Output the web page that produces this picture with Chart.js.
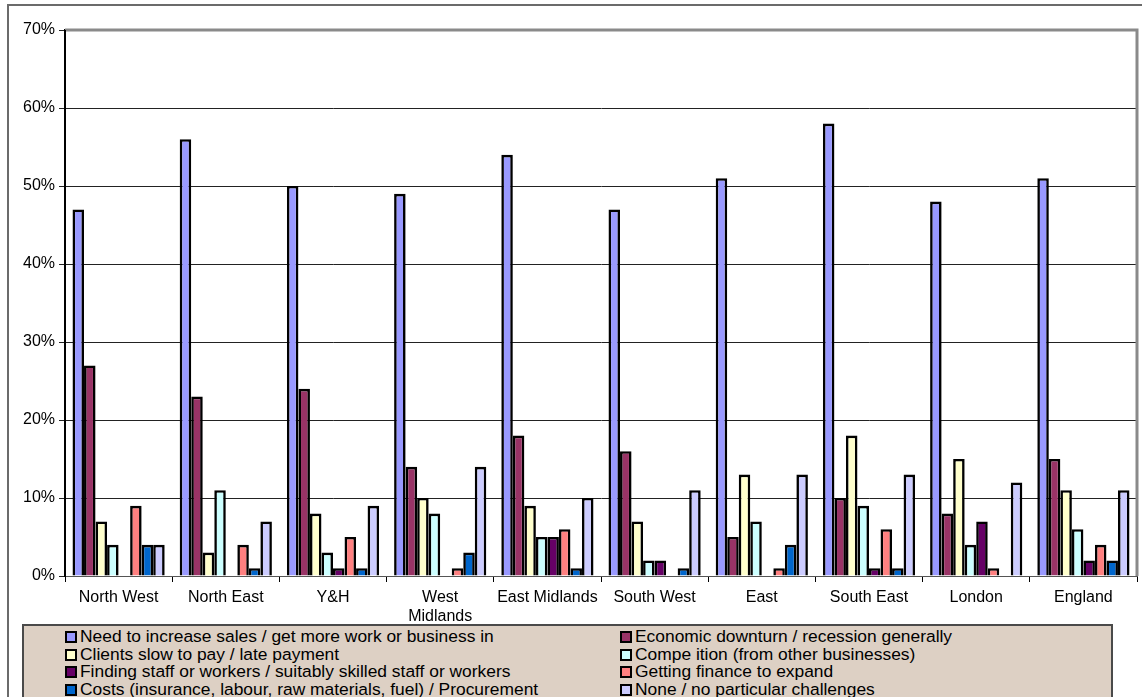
<!DOCTYPE html>
<html>
<head>
<meta charset="utf-8">
<script src="https://cdn.jsdelivr.net/npm/chart.js@4.4.1/dist/chart.umd.min.js"></script>
<style>
  html, body { margin: 0; padding: 0; background: #fff; }
  #wrap { position: relative; width: 1142px; height: 697px; overflow: hidden; font-family: "Liberation Sans", Arial, sans-serif; }
  #frame { position: absolute; left: 7px; top: 4px; width: 1200px; height: 800px; border: 2px solid #6b6b6b; box-sizing: border-box; }
  canvas { position: absolute; left: 0; top: 0; }
  #legend { position: absolute; left: 22px; top: 624px; width: 1091px; height: 90px; background: #ddd0c4; border: 2px solid #4a4a4a; box-sizing: border-box; }
  .item { position: absolute; font-size: 17.4px; line-height: 18px; color: #000; white-space: nowrap; }
  .mk { position: absolute; left: 0; top: 3px; width: 8px; height: 8px; border: 2px solid #000; }
  .item span.t { position: absolute; left: 15px; top: -1px; }
</style>
</head>
<body>
<div id="wrap">
  <div id="frame"></div>
  <canvas id="c" width="1142" height="697"></canvas>
  <div id="legend"></div>
</div>
<script>
// ---- data ----
const categories = ['North West', 'North East', 'Y&H', ['West', 'Midlands'], 'East Midlands', 'South West', 'East', 'South East', 'London', 'England'];
const seriesNames = [
  'Need to increase sales / get more work or business in',
  'Economic downturn / recession generally',
  'Clients slow to pay / late payment',
  'Compe ition (from other businesses)',
  'Finding staff or workers / suitably skilled staff or workers',
  'Getting finance to expand',
  'Costs (insurance, labour, raw materials, fuel) / Procurement',
  'None / no particular challenges'
];
const needSales   = [47, 56, 50, 49, 54, 47, 51, 58, 48, 51];
const downturn    = [27, 23, 24, 14, 18, 16, 5, 10, 8, 15];
const latePayment = [7, 3, 8, 10, 9, 7, 13, 18, 15, 11];
const competition = [4, 11, 3, 8, 5, 2, 7, 9, 4, 6];
const findingStaff= [0, 0, 1, 0, 5, 2, 0, 1, 7, 2];
const finance     = [9, 4, 5, 1, 6, 0, 1, 6, 1, 4];
const costs       = [4, 1, 1, 3, 1, 1, 4, 1, 0, 2];
const none        = [4, 7, 9, 14, 10, 11, 13, 13, 12, 11];
const yTicks = [0, 10, 20, 30, 40, 50, 60, 70];

const seriesValues = [needSales, downturn, latePayment, competition, findingStaff, finance, costs, none];
const colors = ['#9999ff', '#993366', '#ffffcc', '#ccffff', '#660066', '#ff8080', '#0066cc', '#ccccff'];

const datasets = seriesValues.map((vals, i) => ({
  label: seriesNames[i],
  data: vals,
  backgroundColor: colors[i],
  borderColor: '#000',
  borderWidth: 2.6,
  borderSkipped: 'start',
  categoryPercentage: 0.86,
  barPercentage: 1.0
}));

const plotFrame = {
  id: 'plotFrame',
  afterDraw(chart) {
    const { ctx, chartArea: a } = chart;
    ctx.save();
    ctx.strokeStyle = '#8a8a8a';
    ctx.lineWidth = 3;
    ctx.beginPath();
    ctx.moveTo(a.left, a.top);
    ctx.lineTo(a.right, a.top);
    ctx.lineTo(a.right, a.bottom);
    ctx.stroke();
    ctx.strokeStyle = '#000';
    ctx.lineWidth = 2;
    ctx.beginPath();
    ctx.moveTo(a.left, a.top);
    ctx.lineTo(a.left, a.bottom + 1);
    ctx.stroke();
    ctx.restore();
  }
};

new Chart(document.getElementById('c'), {
  type: 'bar',
  data: { labels: categories, datasets },
  options: {
    responsive: false,
    animation: false,
    layout: { padding: { left: 8, top: 30, right: 5, bottom: 0 } },
    plugins: { legend: { display: false }, tooltip: { enabled: false } },
    scales: {
      x: {
        afterFit(s) { s.height = 121; },
        grid: { offset: true, drawOnChartArea: false, color: '#000', tickLength: 6, lineWidth: 1 },
        border: { color: '#555', width: 1 },
        ticks: { color: '#000', font: { family: 'Liberation Sans, Arial', size: 16 }, padding: 6, maxRotation: 0, autoSkip: false }
      },
      y: {
        min: 0, max: 70,
        afterFit(s) { s.width = 57; },
        afterBuildTicks(s) { s.ticks = yTicks.map(v => ({ value: v })); },
        grid: { color: '#222', lineWidth: 1, tickLength: 6 },
        border: { color: '#000', width: 2 },
        ticks: { color: '#000', font: { family: 'Liberation Sans, Arial', size: 16 }, padding: 4, callback: v => v + '%' }
      }
    }
  },
  plugins: [plotFrame]
});

// ---- legend (two columns, row-major) ----
const legend = document.getElementById('legend');
const colX = [41, 596];
const rowY = [2, 19.5, 37, 54.5];
seriesNames.forEach((name, i) => {
  const el = document.createElement('div');
  el.className = 'item';
  el.style.left = colX[i % 2] + 'px';
  el.style.top = rowY[Math.floor(i / 2)] + 'px';
  const mk = document.createElement('div');
  mk.className = 'mk';
  mk.style.background = colors[i];
  const t = document.createElement('span');
  t.className = 't';
  t.textContent = name;
  el.appendChild(mk);
  el.appendChild(t);
  legend.appendChild(el);
});
</script>
</body>
</html>
